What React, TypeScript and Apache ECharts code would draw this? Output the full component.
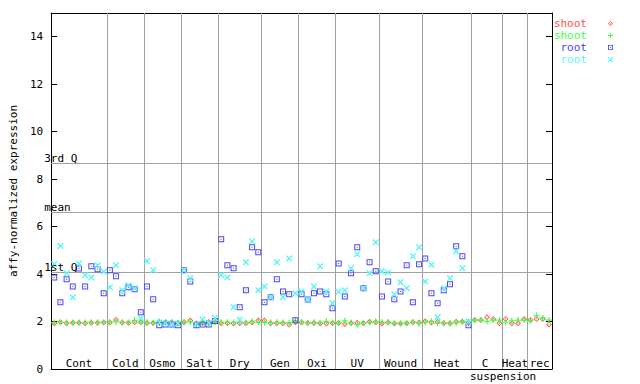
import React, { useEffect, useRef } from 'react';
import * as echarts from 'echarts';

// ---- data ----
const groups = ['Cont', 'Cold', 'Osmo', 'Salt', 'Dry', 'Gen', 'Oxi', 'UV', 'Wound', 'Heat', 'C', 'Heat', 'rec'];
const groupSubLabels = ['', '', '', '', '', '', '', '', '', '', 'suspension', '', ''];
const groupSizes = [9, 6, 6, 6, 7, 6, 6, 7, 7, 8, 5, 4, 4];

const shootRep1 = [
  1.93, 1.97, 1.93, 1.95, 1.95, 1.93, 1.95, 1.95, 1.96,
  1.96, 2.08, 1.96, 1.95, 1.97, 1.97,
  1.94, 1.94, 1.97, 1.97, 1.97, 1.95,
  1.97, 2.04, 1.93, 1.94, 1.98, 2.03,
  1.93, 1.93, 1.92, 1.93, 1.93, 1.96, 2.04,
  2.04, 1.93, 1.93, 1.93, 1.86, 1.97,
  1.96, 1.94, 1.94, 1.92, 1.92, 1.94,
  1.94, 1.90, 1.94, 1.95, 1.93, 1.99, 1.97,
  1.92, 1.96, 1.92, 1.92, 1.93, 1.97, 1.96,
  2.01, 1.96, 1.99, 1.94, 1.93, 1.99, 1.99, 1.95,
  2.06, 2.05, 2.18, 2.11, 1.93,
  2.11, 1.93, 1.93, 2.11,
  2.06, 2.11, 2.11, 1.88,
];
const shootRep2 = [
  1.96, 1.97, 1.96, 1.96, 1.96, 1.96, 1.97, 1.96, 1.97,
  1.97, 1.99, 1.97, 1.96, 2.05, 1.97,
  1.97, 1.95, 2.0, 1.98, 1.97, 1.94,
  1.97, 1.98, 1.88, 1.95, 1.91, 1.97,
  1.97, 1.97, 1.96, 2.0, 1.96, 2.01, 1.97,
  1.96, 1.96, 1.97, 1.96, 1.95, 2.03,
  1.98, 1.95, 1.97, 1.95, 2.01, 1.96,
  1.95, 2.03, 1.96, 1.87, 1.95, 1.97, 2.0,
  1.98, 1.98, 1.93, 1.92, 1.92, 1.97, 1.92,
  1.97, 2.01, 1.93, 1.92, 1.92, 1.94, 2.01, 1.98,
  2.06, 2.06, 2.01, 2.06, 2.06,
  1.97, 2.03, 2.06, 2.06,
  2.03, 2.25, 2.15, 2.06,
];
const rootRep1 = [
  3.86, 2.81, 3.78, 3.48, 4.23, 3.48, 4.33, 4.20, 3.19,
  4.16, 3.91, 3.19, 3.44, 3.36, 2.39,
  3.48, 2.94, 1.84, 1.88, 1.87, 1.84,
  4.16, 3.69, 1.84, 1.88, 1.88, 2.02,
  5.47, 4.37, 4.24, 2.60, 3.32, 5.13, 4.92,
  2.81, 3.02, 3.78, 3.27, 3.15, 2.05,
  3.15, 2.93, 3.19, 3.27, 3.15, 2.56,
  4.45, 3.06, 4.03, 5.13, 3.40, 4.50, 4.12,
  3.06, 3.69, 2.94, 3.27, 4.37, 2.81, 4.41,
  4.66, 3.19, 2.77, 3.32, 3.57, 5.17, 4.75, 1.84,
];
const rootRep2 = [
  4.42, 5.18, 4.03, 3.02, 4.44, 3.95, 3.86, 4.37, 4.10,
  3.44, 4.37, 3.32, 3.53, 3.40, 2.14,
  4.54, 4.16, 1.97, 1.93, 1.90, 1.92,
  4.16, 3.82, 1.90, 2.10, 1.95, 2.15,
  3.95, 3.86, 2.60, 2.08, 4.50, 5.38, 3.32,
  3.48, 3.02, 4.50, 3.02, 4.66, 3.19,
  3.27, 2.94, 3.48, 4.33, 3.27, 2.78,
  3.25, 3.32, 4.24, 4.83, 3.40, 4.03, 5.34,
  4.12, 4.07, 3.15, 3.65, 3.40, 4.75, 5.13,
  3.69, 4.39, 2.19, 3.40, 3.82, 4.96, 4.24, 2.0,
];
const refLineNames = ['1st Q', 'mean', '3rd Q'];
const refLineValues = [4.09, 6.62, 8.68];

// ---- styles ----
const FONT = "'DejaVu Sans Mono', 'Liberation Mono', monospace";
const RED = '#ff5050';
const GREEN = '#40ff40';
const BLUE = '#4848f0';
const CYAN = '#5cf5f5';
const GRID_GREY = '#a0a0a0';

const SYM_DIAMOND = 'path://M3,0L6,3L3,6L0,3Z M3,1.2L1.2,3L3,4.8L4.8,3Z M3,2.4L3.6,3L3,3.6L2.4,3Z';
const SYM_PLUS = 'path://M2.4,0H3.6V2.4H6V3.6H3.6V6H2.4V3.6H0V2.4H2.4Z';
const SYM_SQUARE = 'path://M0,0H6V6H0Z M1,1V5H5V1Z M2.5,2.5H3.5V3.5H2.5Z';
const SYM_X = 'path://M0,0L1,0L6,5L6,6L5,6L0,1Z M5,0L6,0L6,1L1,6L0,6L0,5Z';

export default function App() {
  const ref = useRef<HTMLDivElement>(null);
  useEffect(() => {
    const chart = echarts.init(ref.current as HTMLDivElement, null, { renderer: 'svg' });
    const total = groupSizes.reduce((a, b) => a + b, 0);
    const bounds: number[][] = [];
    let c = -0.5;
    groupSizes.forEach((s) => {
      bounds.push([c, c + s]);
      c += s;
    });
    const toPts = (arr: number[]) => arr.map((v, i) => [i, v]);
    const axisCommonX = {
      type: 'value',
      min: -0.5,
      max: total - 0.5,
      axisLine: { show: true, onZero: false, lineStyle: { color: '#000', width: 1 } },
      axisTick: { show: false },
      axisLabel: { show: false },
      splitLine: { show: false },
    };
    const scatter = (name: string, data: number[], color: string, symbol: string, size: number, z: number) => ({
      type: 'scatter',
      name,
      data: toPts(data),
      symbol,
      symbolSize: size,
      itemStyle: { color, opacity: 1 },
      z,
      silent: true,
    });
    const areaData: any[] = [];
    bounds.forEach((b, i) => {
      const hasSub = groupSubLabels[i] !== '';
      areaData.push([
        { xAxis: b[0], name: groups[i], label: hasSub ? { offset: [-2, 0] } : {} },
        { xAxis: b[1] },
      ]);
      if (hasSub) {
        areaData.push([
          { xAxis: b[0], name: groupSubLabels[i], label: { offset: [16, 13] } },
          { xAxis: b[1] },
        ]);
      }
    });
    const option = {
      animation: false,
      backgroundColor: '#ffffff',
      textStyle: { fontFamily: FONT },
      grid: { left: 44, right: 88, top: 13, bottom: 15 },
      xAxis: [
        { ...axisCommonX, position: 'bottom' },
        { ...axisCommonX, position: 'top' },
      ],
      yAxis: [
        {
          type: 'value',
          min: 0,
          max: 15,
          interval: 2,
          name: 'affy-normalized expression',
          nameLocation: 'middle',
          nameGap: 29,
          nameTextStyle: { fontFamily: FONT, fontSize: 11, color: '#000' },
          axisLine: { show: true, onZero: false, lineStyle: { color: '#000', width: 1 } },
          axisTick: { show: true, inside: true, length: 6, lineStyle: { color: '#000' } },
          axisLabel: { color: '#000', fontFamily: FONT, fontSize: 11, margin: 8, showMaxLabel: false },
          splitLine: { show: false },
        },
        {
          type: 'value',
          position: 'right',
          min: 0,
          max: 15,
          interval: 2,
          axisLine: { show: true, onZero: false, lineStyle: { color: '#000', width: 1 } },
          axisTick: { show: true, inside: true, length: 6, lineStyle: { color: '#000' } },
          axisLabel: { show: false },
          splitLine: { show: false },
        },
      ],
      legend: {
        orient: 'vertical',
        right: 27,
        top: 18,
        align: 'right',
        padding: 0,
        itemGap: 1,
        itemWidth: 5,
        itemHeight: 5,
        selectedMode: false,
        textStyle: { fontFamily: FONT, fontSize: 11, lineHeight: 10, padding: [0, 16, 0, 0] },
        formatter: (n: string) => n.split('_')[0],
        data: [
          { name: 'shoot_1', icon: SYM_DIAMOND, textStyle: { color: RED } },
          { name: 'shoot_2', icon: SYM_PLUS, textStyle: { color: GREEN } },
          { name: 'root_1', icon: SYM_SQUARE, textStyle: { color: BLUE } },
          { name: 'root_2', icon: SYM_X, textStyle: { color: CYAN } },
        ],
      },
      series: [
        {
          type: 'line',
          name: 'guides',
          data: [],
          z: 1,
          silent: true,
          markLine: {
            z: 1,
            silent: true,
            symbol: 'none',
            animation: false,
            lineStyle: { color: GRID_GREY, width: 1, type: 'solid' },
            label: { show: false },
            data: [
              ...bounds.slice(1).map((b) => ({ xAxis: b[0] })),
              ...refLineValues.map((v) => ({ yAxis: v })),
            ],
          },
          markArea: {
            z: 1,
            silent: true,
            itemStyle: { color: 'rgba(0,0,0,0)' },
            label: { show: true, position: 'insideBottom', distance: 0, color: '#000', fontFamily: FONT, fontSize: 11 },
            data: areaData,
          },
        },
        scatter('shoot_1', shootRep1, RED, SYM_DIAMOND, 6, 3),
        scatter('shoot_2', shootRep2, GREEN, SYM_PLUS, 6, 4),
        scatter('root_1', rootRep1, BLUE, SYM_SQUARE, 6, 5),
        scatter('root_2', rootRep2, CYAN, SYM_X, 6, 6),
        {
          type: 'line',
          name: 'refLabels',
          data: [],
          z: 20,
          silent: true,
          markLine: {
            z: 20,
            silent: true,
            symbol: 'none',
            animation: false,
            lineStyle: { color: 'rgba(0,0,0,0)', width: 1 },
            data: refLineValues.map((v, i) => ({
              yAxis: v,
              name: refLineNames[i],
              label: {
                show: true,
                formatter: refLineNames[i],
                position: 'insideStartTop',
                distance: [0, 1],
                offset: [-7, 2],
                color: '#000',
                fontFamily: FONT,
                fontSize: 11,
              },
            })),
          },
        },
      ],
    };
    chart.setOption(option as any);
    return () => chart.dispose();
  }, []);
  return (
    <div
      ref={ref}
      style={{ position: 'fixed', left: 0, top: 0, width: 640, height: 384, background: '#fff' }}
    />
  );
}
